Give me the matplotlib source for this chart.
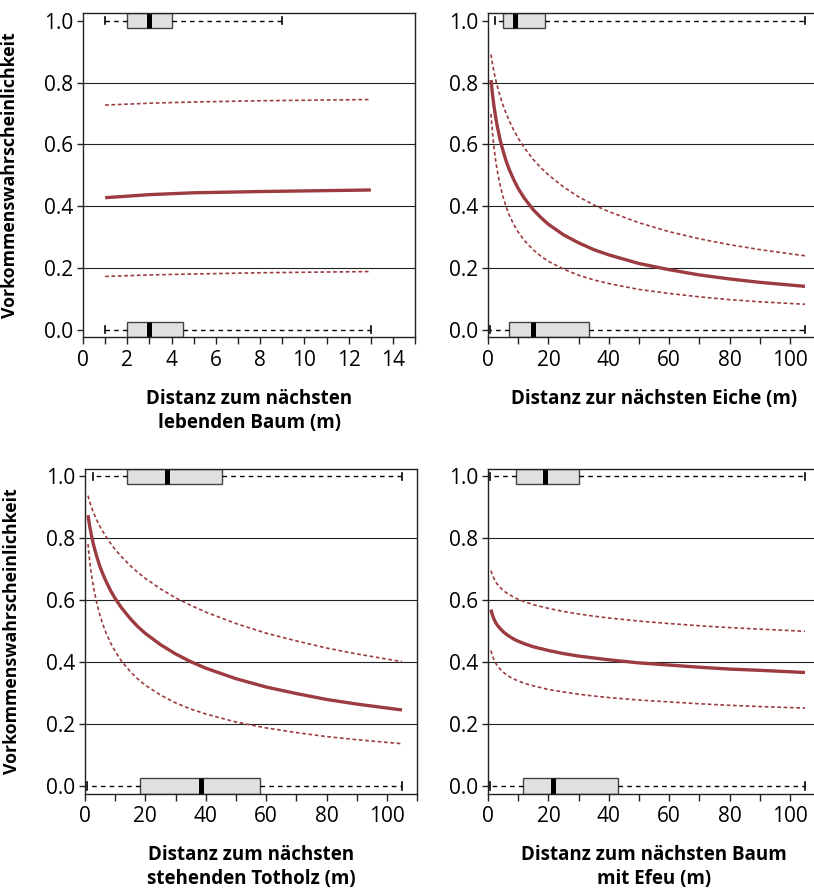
import matplotlib.pyplot as plt

plt.rcParams['font.family'] = ['Open Sans', 'DejaVu Sans']

# --- values --------------------------------------------------------------
# Distanz zum naechsten lebenden Baum
x_baum = [1, 3, 5, 8, 13]
baum_fit = [0.427, 0.437, 0.443, 0.447, 0.452]
baum_upper = [0.727, 0.733, 0.737, 0.741, 0.745]
baum_lower = [0.172, 0.177, 0.180, 0.184, 0.188]

# the three other predictors share the same sampling positions (m)
x_dist = [1, 1.25, 1.5, 2, 2.5, 3, 4, 5, 6, 7, 8.5, 10, 12, 15, 17.5, 20,
          25, 30, 35, 40, 50, 60, 70, 80, 90, 105]

eiche_fit = [0.808, 0.783, 0.761, 0.722, 0.690, 0.662, 0.615, 0.578, 0.546,
             0.519, 0.486, 0.457, 0.426, 0.388, 0.363, 0.341, 0.307, 0.281,
             0.259, 0.242, 0.214, 0.194, 0.177, 0.164, 0.153, 0.140]
eiche_upper = [0.891, 0.875, 0.860, 0.834, 0.811, 0.791, 0.756, 0.726, 0.700,
               0.677, 0.646, 0.620, 0.589, 0.551, 0.524, 0.501, 0.462, 0.430,
               0.404, 0.382, 0.346, 0.317, 0.294, 0.275, 0.259, 0.239]
eiche_lower = [0.698, 0.665, 0.636, 0.588, 0.550, 0.518, 0.468, 0.429, 0.398,
               0.372, 0.341, 0.316, 0.289, 0.258, 0.238, 0.221, 0.196, 0.176,
               0.161, 0.149, 0.130, 0.117, 0.106, 0.097, 0.090, 0.082]

totholz_fit = [0.875, 0.859, 0.843, 0.817, 0.793, 0.773, 0.738, 0.708, 0.683,
               0.661, 0.631, 0.606, 0.577, 0.541, 0.515, 0.493, 0.457, 0.427,
               0.402, 0.381, 0.347, 0.320, 0.299, 0.280, 0.265, 0.246]
totholz_upper = [0.938, 0.929, 0.920, 0.905, 0.892, 0.879, 0.857, 0.838, 0.821,
                 0.805, 0.784, 0.764, 0.742, 0.712, 0.690, 0.671, 0.637, 0.608,
                 0.584, 0.562, 0.525, 0.494, 0.469, 0.446, 0.427, 0.402]
totholz_lower = [0.782, 0.756, 0.733, 0.693, 0.661, 0.633, 0.587, 0.550, 0.520,
                 0.494, 0.462, 0.435, 0.405, 0.370, 0.346, 0.326, 0.294, 0.269,
                 0.249, 0.233, 0.207, 0.188, 0.173, 0.160, 0.150, 0.137]

efeu_fit = [0.570, 0.560, 0.552, 0.539, 0.529, 0.521, 0.509, 0.499, 0.491,
            0.484, 0.475, 0.468, 0.460, 0.450, 0.444, 0.438, 0.428, 0.420,
            0.414, 0.408, 0.398, 0.391, 0.384, 0.378, 0.374, 0.367]
efeu_upper = [0.696, 0.688, 0.681, 0.670, 0.661, 0.653, 0.642, 0.633, 0.625,
              0.619, 0.610, 0.603, 0.596, 0.586, 0.580, 0.574, 0.564, 0.556,
              0.549, 0.543, 0.533, 0.525, 0.518, 0.512, 0.507, 0.500]
efeu_lower = [0.438, 0.428, 0.420, 0.407, 0.398, 0.390, 0.378, 0.368, 0.361,
              0.354, 0.346, 0.340, 0.332, 0.324, 0.318, 0.312, 0.304, 0.297,
              0.291, 0.286, 0.278, 0.272, 0.266, 0.261, 0.257, 0.252]

# boxplots of the distances: (whislo, q1, med, q3, whishi)
box_baum = {1: (1, 2, 3, 4, 9), 0: (1, 2, 3, 4.5, 13)}
box_eiche = {1: (2.2, 5, 9, 19, 105), 0: (0.6, 7, 15, 33.5, 105)}
box_totholz = {1: (2.8, 14, 27, 45.5, 105), 0: (0.8, 18.3, 38.5, 58, 105)}
box_efeu = {1: (0.6, 9.4, 19, 30, 105), 0: (0.6, 11.6, 21.4, 43.1, 105)}

xlabels = ['Distanz zum nächsten\nlebenden Baum (m)',
           'Distanz zur nächsten Eiche (m)',
           'Distanz zum nächsten\nstehenden Totholz (m)',
           'Distanz zum nächsten Baum\nmit Efeu (m)']
ylabel = 'Vorkommenswahrscheinlichkeit'

red = '#9c3b40'

fig = plt.figure(figsize=(8.14, 8.90), dpi=100)
positions = [[0.102, 0.621, 0.408, 0.364],
             [0.5995, 0.621, 0.408, 0.364],
             [0.1044, 0.108, 0.408, 0.365],
             [0.5995, 0.108, 0.408, 0.365]]

panels = [
    (x_baum, baum_fit, baum_upper, baum_lower, box_baum),
    (x_dist, eiche_fit, eiche_upper, eiche_lower, box_eiche),
    (x_dist, totholz_fit, totholz_upper, totholz_lower, box_totholz),
    (x_dist, efeu_fit, efeu_upper, efeu_lower, box_efeu),
]

for i, (x, fit, upper, lower, boxes) in enumerate(panels):
    ax = fig.add_axes(positions[i])

    # horizontal reference lines
    for yv in [0.2, 0.4, 0.6, 0.8]:
        ax.axhline(yv, color='#222222', lw=0.8, zorder=1)

    ax.plot(x, upper, color=red, lw=1.2, ls=(0, (2.2, 1.6)), zorder=3)
    ax.plot(x, lower, color=red, lw=1.2, ls=(0, (2.2, 1.6)), zorder=3)
    ax.plot(x, fit, color=red, lw=2.4, solid_capstyle='butt',
            solid_joinstyle='round', zorder=4)

    stats = []
    for pos in [1, 0]:
        lo, q1, med, q3, hi = boxes[pos]
        stats.append({'whislo': lo, 'q1': q1, 'med': med, 'q3': q3,
                      'whishi': hi, 'fliers': []})
    ax.bxp(stats, positions=[1, 0], widths=0.05, capwidths=0.024,
           orientation='horizontal', patch_artist=True, showfliers=False,
           manage_ticks=False,
           boxprops=dict(facecolor='#e1e1e1', edgecolor='#444444', lw=1.0),
           medianprops=dict(color='black', lw=3.6, solid_capstyle='butt'),
           whiskerprops=dict(color='black', lw=1.0, ls=(0, (3.3, 3.0))),
           capprops=dict(color='black', lw=1.2))

    ax.set_ylim(-0.025, 1.024)
    ax.set_yticks([0.0, 0.2, 0.4, 0.6, 0.8, 1.0])
    ax.set_yticklabels(['0.0', '0.2', '0.4', '0.6', '0.8', '1.0'])
    if i == 0:
        ax.set_xlim(0, 15)
        ax.set_xticks(range(0, 16))
        ax.set_xticklabels([str(v) if v % 2 == 0 and v < 15 else ''
                            for v in range(0, 16)])
    else:
        ax.set_xlim(0, 110)
        ax.set_xticks(range(0, 111, 10))
        ax.set_xticklabels([str(v) if v % 20 == 0 and v <= 100 else ''
                            for v in range(0, 111, 10)])

    ax.tick_params(axis='x', direction='out', length=5, width=1.0,
                   labelsize=15, pad=4, color='#222222')
    ax.tick_params(axis='y', direction='out', length=4, width=1.0,
                   labelsize=15, pad=3, color='#222222')
    for sp in ax.spines.values():
        sp.set_linewidth(1.0)
        sp.set_color('#222222')

    ax.set_xlabel(xlabels[i], fontsize=13.5, fontweight='bold',
                  linespacing=1.25, labelpad=13)
    if i % 2 == 0:
        ax.set_ylabel(ylabel, fontsize=12.8, fontweight='bold')
        ax.yaxis.set_label_coords(-0.192, 0.5)

fig.savefig('out.png', dpi=100)
